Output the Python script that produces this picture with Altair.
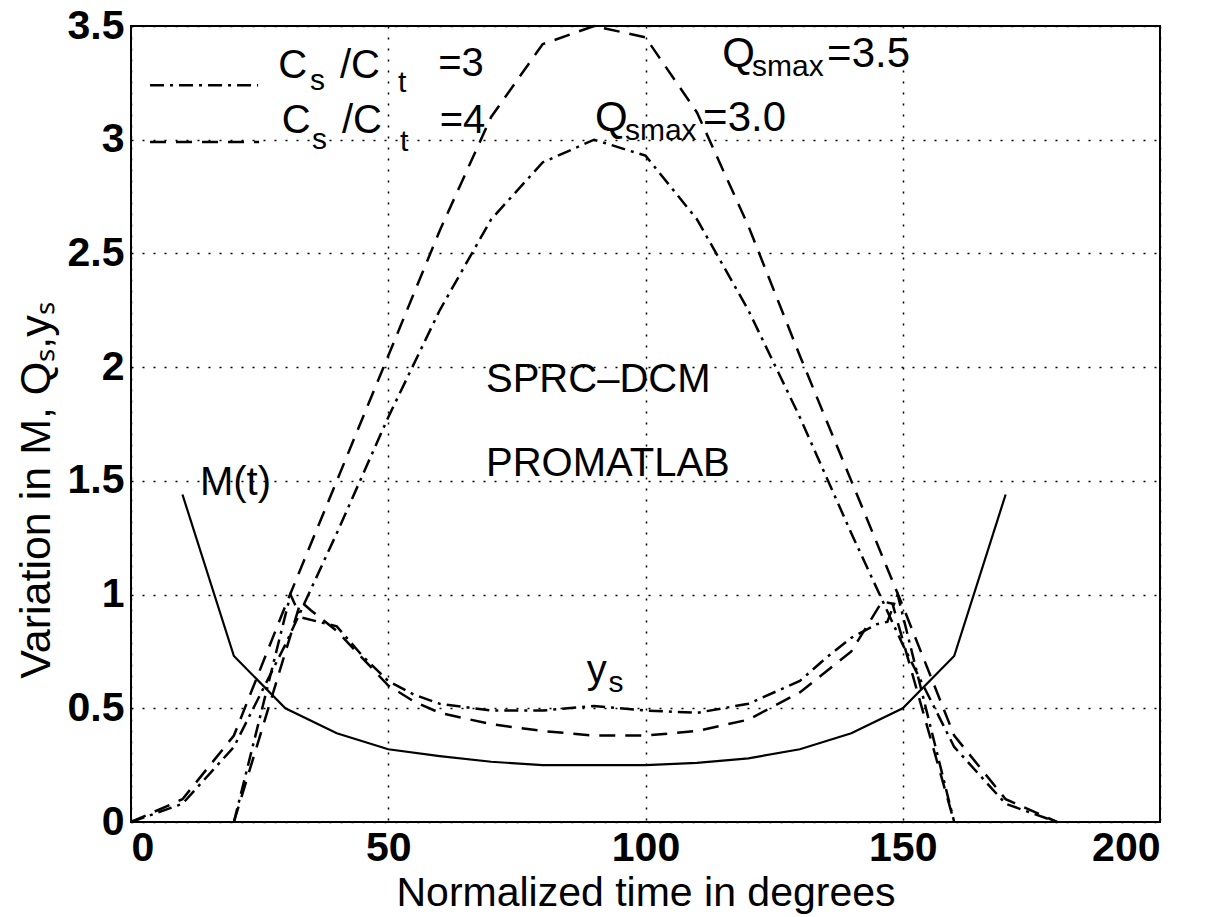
import altair as alt
import pandas as pd

# ---- data ----
q_x = [0, 10, 20, 30, 40, 50, 60, 70, 80, 90, 100, 110, 120, 130, 140, 150, 160, 170, 180]
q_ratio3 = [0, 0.08, 0.33, 0.78, 1.27, 1.78, 2.25, 2.65, 2.90, 3.00, 2.93, 2.65, 2.25, 1.78, 1.27, 0.78, 0.33, 0.08, 0]
q_ratio4 = [0, 0.10, 0.38, 0.95, 1.50, 2.05, 2.60, 3.10, 3.42, 3.50, 3.45, 3.12, 2.62, 2.05, 1.50, 0.95, 0.38, 0.10, 0]

m_x = [10, 20, 30, 40, 50, 60, 70, 80, 90, 100, 110, 120, 130, 140, 150, 160, 170]
m_vals = [1.44, 0.73, 0.50, 0.39, 0.32, 0.29, 0.265, 0.25, 0.25, 0.25, 0.26, 0.28, 0.32, 0.39, 0.50, 0.73, 1.44]

ys3_x = [20, 31, 33, 40, 45, 50, 55, 60, 70, 80, 90, 100, 110, 120, 130, 135, 140, 145, 147, 149, 160]
ys3_vals = [0, 1.0, 0.9, 0.86, 0.73, 0.62, 0.56, 0.52, 0.49, 0.49, 0.51, 0.49, 0.48, 0.52, 0.62, 0.72, 0.81, 0.87, 0.88, 1.0, 0]
ys4_x = [20, 33, 35, 40, 50, 55, 60, 70, 80, 90, 100, 110, 120, 130, 140, 146, 148, 160]
ys4_vals = [0, 0.97, 0.93, 0.84, 0.60, 0.53, 0.48, 0.43, 0.40, 0.38, 0.38, 0.40, 0.45, 0.57, 0.75, 0.97, 0.96, 0]

x_ticks = [0, 50, 100, 150, 200]
y_ticks = [0, 0.5, 1, 1.5, 2, 2.5, 3, 3.5]

# legend keys (ratio, start, end, level)
key_ratio = ["3", "4"]
key_x1 = [3.7, 3.7]
key_x2 = [24.7, 24.9]
key_y = [3.24, 2.99]

ann_text = ["SPRC–DCM", "PROMATLAB", "M(t)", "y", "s",
            "Q", "smax", "=3.5", "Q", "smax", "=3.0",
            "C", "s", "/C", "t", "=3",
            "C", "s", "/C", "t", "=4"]
ann_x = [69, 69, 13.4, 88.6, 92.8,
         114.9, 120.7, 135.3, 90.2, 96.0, 111.2,
         28.6, 34.8, 40.6, 51.9, 59.7,
         29.3, 35.2, 41.0, 52.3, 60.0]
ann_y = [1.89, 1.52, 1.44, 0.61, 0.57,
         3.32, 3.28, 3.32, 3.04, 3.00, 3.04,
         3.27, 3.22, 3.27, 3.21, 3.28,
         3.03, 2.96, 3.03, 2.95, 3.03]
ann_fs = [40, 40, 40, 40, 30,
          42, 30, 42, 42, 30, 42,
          40, 30, 40, 30, 40,
          40, 30, 40, 30, 40]

rows = []
for xs, vs, ratio, name in [(q_x, q_ratio3, "3", "Q3"), (q_x, q_ratio4, "4", "Q4"),
                            (ys3_x, ys3_vals, "3", "ys3"), (ys4_x, ys4_vals, "4", "ys4")]:
    for a, b in zip(xs, vs):
        rows.append({"x": a, "v": b, "ratio": ratio, "series": name})
df_lines = pd.DataFrame(rows)
df_m = pd.DataFrame({"x": m_x, "v": m_vals})
df_ann = pd.DataFrame({"text": ann_text, "x": ann_x, "v": ann_y, "fs": ann_fs})
df_key = pd.DataFrame({"ratio": key_ratio, "x": key_x1, "x2": key_x2, "v": key_y})

FONT = "Liberation Sans"
xscale = alt.Scale(domain=[0, 200], nice=False)
yscale = alt.Scale(domain=[0, 3.5], nice=False)
dash_scale = alt.Scale(domain=["3", "4"], range=[[14, 6, 3, 6], [16, 10]])

x_enc = alt.X("x:Q", scale=xscale,
              axis=alt.Axis(values=x_ticks, title="Normalized time in degrees",
                            labelPadding=6, titlePadding=5))
y_enc = alt.Y("v:Q", scale=yscale,
              axis=alt.Axis(values=y_ticks, format="~g", title="Variation in M, Qₛ,yₛ",
                            labelPadding=7, titleX=-95, titleY=464, titleAngle=270,
                            titleAlign="center", titleBaseline="middle",
                            titleFontSize=43))

lines = alt.Chart(df_lines).mark_line(color="black", strokeWidth=2.5).encode(
    x=x_enc, y=y_enc,
    strokeDash=alt.StrokeDash("ratio:N", scale=dash_scale, legend=None),
    detail="series:N",
)

keys = alt.Chart(df_key).mark_rule(color="black", strokeWidth=2.5).encode(
    x=x_enc, x2="x2:Q", y=y_enc,
    strokeDash=alt.StrokeDash("ratio:N", scale=dash_scale, legend=None),
)

m_line = alt.Chart(df_m).mark_line(color="black", strokeWidth=2.2).encode(x=x_enc, y=y_enc)

texts = alt.Chart(df_ann).mark_text(align="left", baseline="alphabetic", font=FONT,
                                   color="black").encode(
    x=x_enc, y=y_enc, text="text:N", size=alt.Size("fs:Q", scale=None))

chart = alt.layer(lines, keys, m_line, texts).properties(
    width=1029, height=796,
    autosize=alt.AutoSizeParams(type="none"),
    padding={"left": 131, "top": 26, "right": 48, "bottom": 95},
    background="white",
).configure_view(stroke="black", strokeWidth=2).configure_axis(
    grid=True, gridColor="black", gridDash=[2, 9], gridWidth=1.5, gridOpacity=1,
    domain=False, ticks=False,
    labelFont=FONT, labelFontSize=41, labelFontWeight="bold", labelColor="black",
    titleFont=FONT, titleFontSize=41, titleFontWeight="normal", titleColor="black",
)

chart.save("out.html", embed_options={"renderer": "svg", "actions": False})
